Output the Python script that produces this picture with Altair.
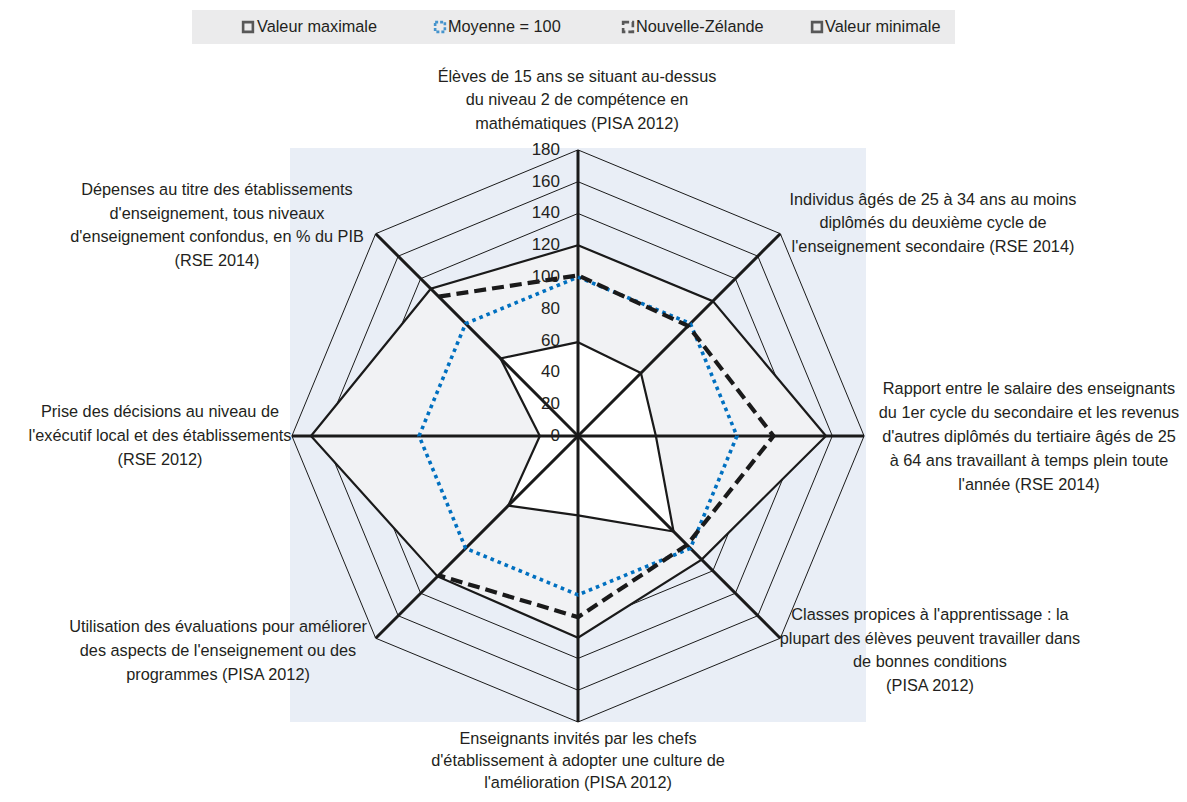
import altair as alt
import pandas as pd

# ---------------- data ----------------
AXIS_LABELS = [
    "Élèves de 15 ans se situant au-dessus\ndu niveau 2 de compétence en\nmathématiques (PISA 2012)",
    "Individus âgés de 25 à 34 ans au moins\ndiplômés du deuxième cycle de\nl'enseignement secondaire (RSE 2014)",
    "Rapport entre le salaire des enseignants\ndu 1er cycle du secondaire et les revenus\nd'autres diplômés du tertiaire âgés de 25\nà 64 ans travaillant à temps plein toute\nl'année (RSE 2014)",
    "Classes propices à l'apprentissage : la\nplupart des élèves peuvent travailler dans\nde bonnes conditions\n(PISA 2012)",
    "Enseignants invités par les chefs\nd'établissement à adopter une culture de\nl'amélioration (PISA 2012)",
    "Utilisation des évaluations pour améliorer\ndes aspects de l'enseignement ou des\nprogrammes (PISA 2012)",
    "Prise des décisions au niveau de\nl'exécutif local et des établissements\n(RSE 2012)",
    "Dépenses au titre des établissements\nd'enseignement, tous niveaux\nd'enseignement confondus, en % du PIB\n(RSE 2014)",
]
MAX_VALS = [120, 120, 156, 110, 127, 125, 168, 131]
AVG_VALS = [100, 100, 100, 100, 100, 100, 100, 100]
NZ_VALS = [101, 98, 123, 97, 114, 124, None, 124]
MIN_VALS = [59, 56, 49, 85, 50, 62, 24, 69]
TICKS = [0, 20, 40, 60, 80, 100, 120, 140, 160, 180]
SERIES = ["Valeur maximale", "Moyenne = 100", "Nouvelle-Zélande", "Valeur minimale"]

# ---------------- layout (page pixels) ----------------
FONT = "'Liberation Sans Narrow', 'Arial Narrow', 'Liberation Sans', sans-serif"
CX, CY = 578.0, 436.0          # page position of radar centre
KX = 576 / 362.4               # px per unit (x)
KY = 574 / 361.2               # px per unit (y)
# (centre x, first-line y, line height)
LABEL_POS = [(577, 77, 23.5), (933, 200, 23.5), (1029, 389, 24), (930, 615, 23.7),
             (578, 739, 22), (218, 627, 24), (160, 412, 24), (217, 190, 23.7)]
LEG_Y = 27
LEG_ICON_X = [248, 440, 628, 817]
LEG_TEXT_X = [257, 448, 636, 825]
LEG_BAND = (192, 955, 10, 44)


def ux(px):
    return (px - CX) / KX


def uy(py):
    return (CY - py) / KY


# ---------------- tables ----------------
def closed(name, vals):
    return [{"series": name, "ord": i, "axis": i % 8, "value": vals[i % 8]} for i in range(9)]


def open_path(name, vals):
    g = vals.index(None)
    seq = [(g + 1 + j) % 8 for j in range(7)]
    return [{"series": name, "ord": j, "axis": a, "value": vals[a]} for j, a in enumerate(seq)]


max_df = pd.DataFrame(closed(SERIES[0], MAX_VALS))
avg_df = pd.DataFrame(closed(SERIES[1], AVG_VALS))
nz_df = pd.DataFrame(open_path(SERIES[2], NZ_VALS))
min_df = pd.DataFrame(closed(SERIES[3], MIN_VALS))

grid_df = pd.DataFrame([{"t": t, "ord": i, "axis": i % 8, "value": t}
                        for t in TICKS[1:] for i in range(9)])
spoke_df = pd.DataFrame([{"axis": a, "ord": o, "value": v}
                         for a in range(8) for o, v in enumerate([0, TICKS[-1]])])
tick_df = pd.DataFrame({"label": [str(t) for t in TICKS], "px": 0.0, "py": TICKS})
lab_df = pd.DataFrame({"label": AXIS_LABELS,
                       "px": [ux(p[0]) for p in LABEL_POS],
                       "py": [uy(p[1]) for p in LABEL_POS],
                       "lh": [p[2] for p in LABEL_POS]})
leg_df = pd.DataFrame({"series": SERIES,
                       "ix": [ux(x) for x in LEG_ICON_X],
                       "tx": [ux(x) for x in LEG_TEXT_X],
                       "py": [uy(LEG_Y)] * 4})
band_df = pd.DataFrame({"px": [ux(LEG_BAND[0])], "px2": [ux(LEG_BAND[1])],
                        "py": [uy(LEG_BAND[2])], "py2": [uy(LEG_BAND[3])]})

XS = alt.Scale(domain=[-181.2, 181.2], nice=False, zero=False)
YS = alt.Scale(domain=[-180.0, 181.2], nice=False, zero=False)
X = alt.X("px:Q", scale=XS, axis=None)
Y = alt.Y("py:Q", scale=YS, axis=None)

calc = dict(px="datum.value * sin(datum.axis * PI / 4)",
            py="datum.value * cos(datum.axis * PI / 4)")

INK = "#1a1a1a"
TXT = "#231F20"


def poly(df, **mark):
    return alt.Chart(df).transform_calculate(**calc).mark_line(**mark).encode(
        x=X, y=Y, order=alt.Order("ord:Q"))


band = alt.Chart(band_df).mark_rect(color="#EBEBEC").encode(
    x=X, x2="px2:Q", y=Y, y2="py2:Q")

grid = alt.Chart(grid_df).transform_calculate(**calc).mark_line(
    color=INK, strokeWidth=1).encode(x=X, y=Y, detail="t:N", order=alt.Order("ord:Q"))

max_fill = poly(max_df, fill="#F1F2F4", stroke=INK, strokeWidth=2.2)
min_fill = poly(min_df, fill="#FFFFFF", stroke=INK, strokeWidth=2.2)

spokes = alt.Chart(spoke_df).transform_calculate(**calc).mark_line(
    color=INK, strokeWidth=3).encode(x=X, y=Y, detail="axis:N", order=alt.Order("ord:Q"))

avg_line = poly(avg_df, color="#0070C0", strokeWidth=3.6, strokeDash=[3.6, 4])
nz_line = poly(nz_df, color=INK, strokeWidth=4.2, strokeDash=[12, 6])

ticks = alt.Chart(tick_df).mark_text(
    align="right", baseline="middle", dx=-18, font=FONT, fontSize=17, color=TXT
).encode(x=X, y=Y, text="label:N")

label_layers = []
for i in range(len(AXIS_LABELS)):
    label_layers.append(
        alt.Chart(lab_df.iloc[[i]]).mark_text(
            align="center", baseline="middle", font=FONT, fontSize=16.3,
            lineHeight=float(LABEL_POS[i][2]), lineBreak="\n", color=TXT
        ).encode(x=X, y=Y, text="label:N")
    )

leg_icons = []
leg_styles = [dict(strokeDash=[1, 0], color=INK),
              dict(strokeDash=[3, 2], color="#0070C0"),
              dict(strokeDash=[6, 3], color=INK),
              dict(strokeDash=[1, 0], color=INK)]
for i, st in enumerate(leg_styles):
    leg_icons.append(
        alt.Chart(leg_df.iloc[[i]]).mark_point(
            shape="square", filled=False, size=95, strokeWidth=2.6, **st
        ).encode(x=alt.X("ix:Q", scale=XS, axis=None), y=Y)
    )
leg_text = alt.Chart(leg_df).mark_text(
    align="left", baseline="middle", font=FONT, fontSize=16.3, color=TXT
).encode(x=alt.X("tx:Q", scale=XS, axis=None), y=Y, text="series:N")

chart = alt.layer(
    band, grid, max_fill, min_fill, spokes, avg_line, nz_line, ticks,
    *label_layers, *leg_icons, leg_text
).properties(
    width=576, height=574,
    autosize=alt.AutoSizeParams(type="none"),
    padding={"left": 282, "top": 140, "right": 313, "bottom": 71},
).configure_view(fill="#E9EEF6", strokeWidth=0)

chart.save("out.html", embed_options={"renderer": "svg", "actions": False})
